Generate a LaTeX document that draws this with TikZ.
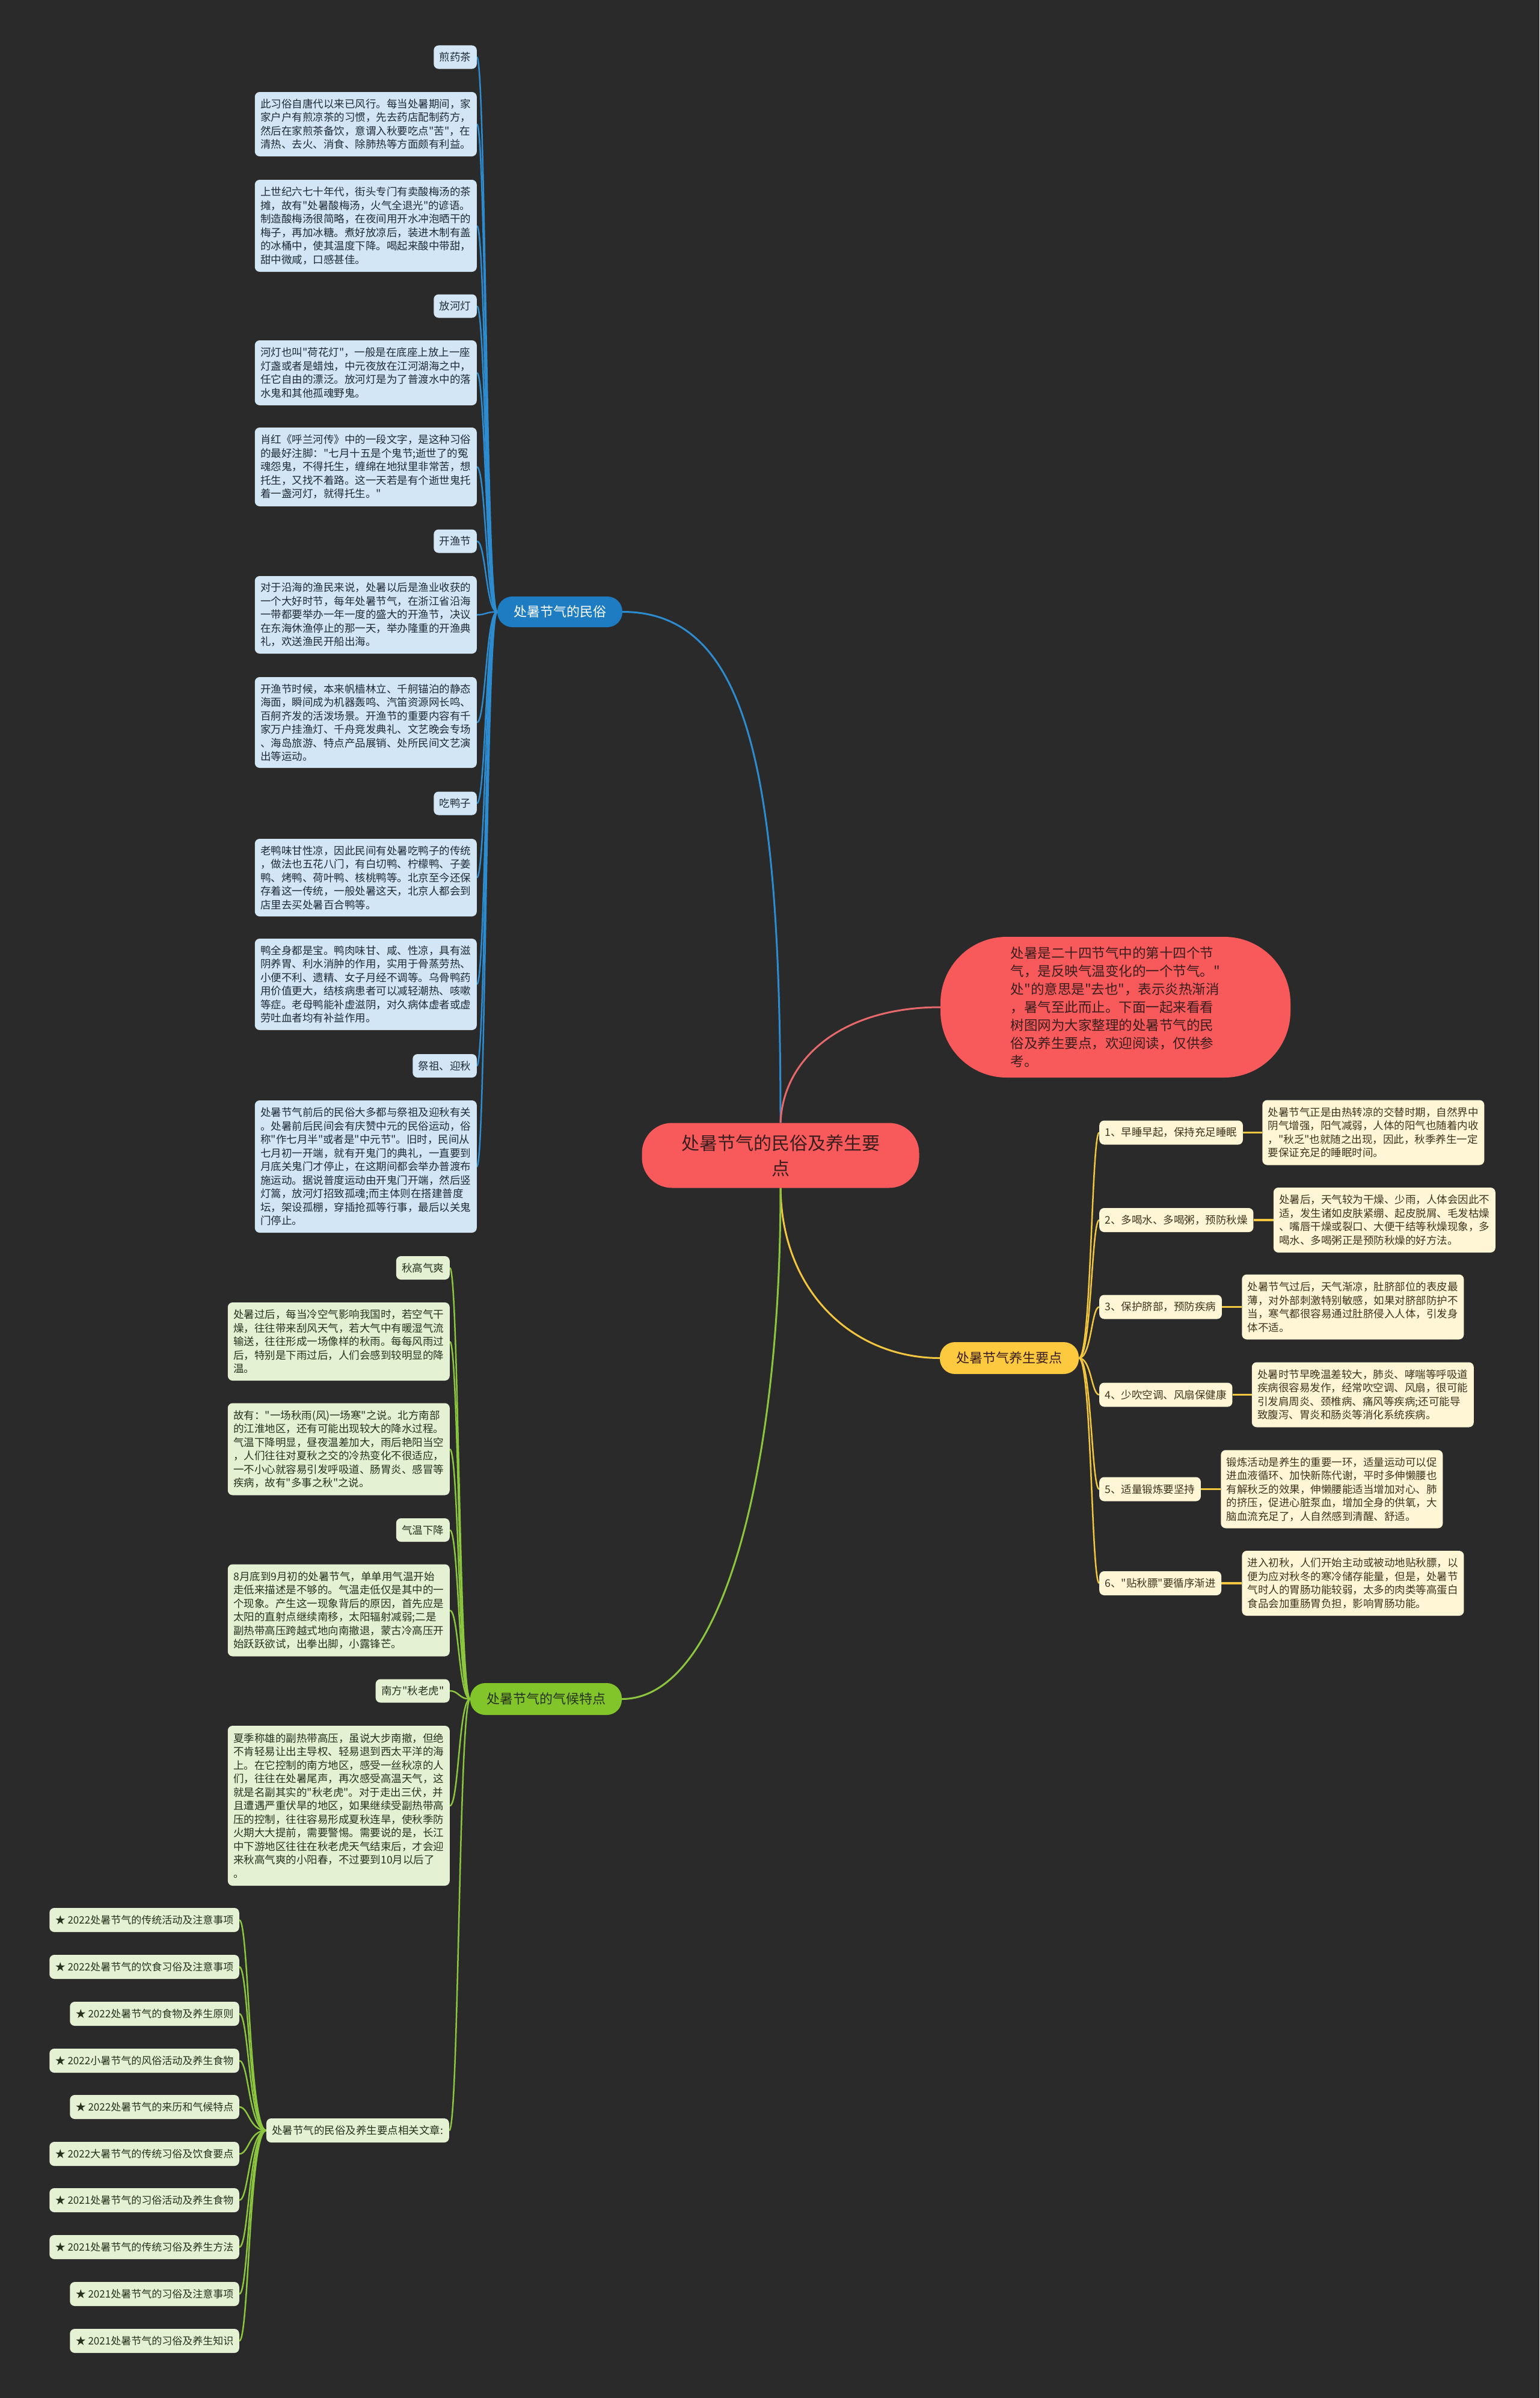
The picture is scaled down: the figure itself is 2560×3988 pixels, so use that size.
\documentclass[tikz,border=0pt]{standalone}
\usepackage{fontspec}
\defaultfontfeatures[\rmfamily]{}
\setmainfont{Noto Sans CJK SC}
\definecolor{bg}{HTML}{2A2A2A}
\definecolor{centralc}{HTML}{F85A5C}
\definecolor{pinkline}{HTML}{E8696B}
\definecolor{bluenode}{HTML}{1E7DC2}
\definecolor{blueline}{HTML}{2D8BD0}
\definecolor{bleaf}{HTML}{D3E6F5}
\definecolor{yellownode}{HTML}{FDC93F}
\definecolor{yellowline}{HTML}{F3C640}
\definecolor{yleaf}{HTML}{FFF6D5}
\definecolor{greennode}{HTML}{82C52A}
\definecolor{greenline}{HTML}{8CC63F}
\definecolor{gleaf}{HTML}{E5F1D3}
\definecolor{darktxt}{HTML}{3A1E1E}
\definecolor{btxt}{HTML}{1F2A35}
\definecolor{ytxt}{HTML}{3D3420}
\definecolor{gtxt}{HTML}{26321C}
\pgfdeclarelayer{bgl}
\pgfdeclarelayer{conn}
\pgfsetlayers{bgl,conn,main}
\tikzset{
  leafbase/.style={rounded corners=8pt, inner xsep=9.5pt, inner ysep=0pt,
    font=\fontsize{17.5}{22.5}\selectfont, align=left},
  bdesc/.style={leafbase, fill=bleaf, text=btxt, text width=350pt, anchor=east},
  blab/.style={leafbase, fill=bleaf, text=btxt, anchor=east, minimum height=39pt},
  gdesc/.style={leafbase, fill=gleaf, text=gtxt, text width=350pt, anchor=east},
  glab/.style={leafbase, fill=gleaf, text=gtxt, anchor=east, minimum height=39pt},
  art/.style={leafbase, fill=gleaf, text=gtxt, anchor=east, minimum height=40pt, font=\fontsize{17}{22}\selectfont},
  yitem/.style={leafbase, fill=yleaf, text=ytxt, anchor=west, minimum height=40pt},
  ydesc/.style={leafbase, fill=yleaf, text=ytxt, text width=350pt, anchor=west},
  branch/.style={rounded corners=25pt, inner sep=0pt, font=\fontsize{22}{26}\selectfont},
  bline/.style={draw=blueline, line width=2.5pt},
  yline/.style={draw=yellowline, line width=2.5pt},
  gline/.style={draw=greenline, line width=2.5pt},
}
\begin{document}
\begin{tikzpicture}[x=1pt,y=-1pt]
\begin{pgfonlayer}{bgl}
\path[fill=bg] (0,0) rectangle (2560,3988);
\end{pgfonlayer}
\useasboundingbox (0,0) rectangle (2560,3988);

% ---------- main nodes ----------
\node[fill=centralc, text=darktxt, rounded corners=50pt, minimum width=461pt, minimum height=108pt,
  inner sep=0pt, align=center, font=\fontsize{30}{42}\selectfont] (central) at (1298,1921.5)
  {处暑节气的民俗及养生要\\点};
\node[fill=centralc, text=darktxt, rounded corners=110pt, minimum width=582pt, minimum height=234pt,
  inner sep=0pt, align=left, font=\fontsize{22.5}{30}\selectfont] (pink) at (1855,1675)
  {处暑是二十四节气中的第十四个节\\
   气，是反映气温变化的一个节气。"\\
   处"的意思是"去也"，表示炎热渐消\\
   ，暑气至此而止。下面一起来看看\\
   树图网为大家整理的处暑节气的民\\
   俗及养生要点，欢迎阅读，仅供参\\
   考。};
\node[branch, fill=bluenode, text=white, minimum width=208pt, minimum height=51pt] (blue) at (931,1017.5) {处暑节气的民俗};
\node[branch, fill=yellownode, text=darktxt, minimum width=231pt, minimum height=53pt] (yellow) at (1678.5,2258.5) {处暑节气养生要点};
\node[branch, fill=greennode, text=gtxt, minimum width=252pt, minimum height=53pt] (green) at (908,2825.5) {处暑节气的气候特点};

% ---------- blue branch ----------
\node[blab] (bL1) at (793,95) {煎药茶};
\node[bdesc, minimum height=107pt] (bD1) at (793,206.5) {此习俗自唐代以来已风行。每当处暑期间，家\\家户户有煎凉茶的习惯，先去药店配制药方，\\然后在家煎茶备饮，意谓入秋要吃点"苦"，在\\清热、去火、消食、除肺热等方面颇有利益。};
\node[bdesc, minimum height=153pt] (bD2) at (793,375.5) {上世纪六七十年代，街头专门有卖酸梅汤的茶\\摊，故有"处暑酸梅汤，火气全退光"的谚语。\\制造酸梅汤很简略，在夜间用开水冲泡晒干的\\梅子，再加冰糖。煮好放凉后，装进木制有盖\\的冰桶中，使其温度下降。喝起来酸中带甜，\\甜中微咸，口感甚佳。};
\node[blab] (bL2) at (793,509) {放河灯};
\node[bdesc, minimum height=108pt] (bD3) at (793,620) {河灯也叫"荷花灯"，一般是在底座上放上一座\\灯盏或者是蜡烛，中元夜放在江河湖海之中，\\任它自由的漂泛。放河灯是为了普渡水中的落\\水鬼和其他孤魂野鬼。};
\node[bdesc, minimum height=131pt] (bD4) at (793,776.5) {肖红《呼兰河传》中的一段文字，是这种习俗\\的最好注脚："七月十五是个鬼节;逝世了的冤\\魂怨鬼，不得托生，缠绵在地狱里非常苦，想\\托生，又找不着路。这一天若是有个逝世鬼托\\着一盏河灯，就得托生。"};
\node[blab] (bL3) at (793,900) {开渔节};
\node[bdesc, minimum height=129pt] (bD5) at (793,1022.5) {对于沿海的渔民来说，处暑以后是渔业收获的\\一个大好时节，每年处暑节气，在浙江省沿海\\一带都要举办一年一度的盛大的开渔节，决议\\在东海休渔停止的那一天，举办隆重的开渔典\\礼，欢送渔民开船出海。};
\node[bdesc, minimum height=151pt] (bD6) at (793,1201.5) {开渔节时候，本来帆樯林立、千舸锚泊的静态\\海面，瞬间成为机器轰鸣、汽笛资源网长鸣、\\百舸齐发的活泼场景。开渔节的重要内容有千\\家万户挂渔灯、千舟竞发典礼、文艺晚会专场\\、海岛旅游、特点产品展销、处所民间文艺演\\出等运动。};
\node[blab] (bL4) at (793,1336) {吃鸭子};
\node[bdesc, minimum height=129pt] (bD7) at (793,1459.5) {老鸭味甘性凉，因此民间有处暑吃鸭子的传统\\，做法也五花八门，有白切鸭、柠檬鸭、子姜\\鸭、烤鸭、荷叶鸭、核桃鸭等。北京至今还保\\存着这一传统，一般处暑这天，北京人都会到\\店里去买处暑百合鸭等。};
\node[bdesc, minimum height=152pt] (bD8) at (793,1637) {鸭全身都是宝。鸭肉味甘、咸、性凉，具有滋\\阴养胃、利水消肿的作用，实用于骨蒸劳热、\\小便不利、遗精、女子月经不调等。乌骨鸭药\\用价值更大，结核病患者可以减轻潮热、咳嗽\\等症。老母鸭能补虚滋阴，对久病体虚者或虚\\劳吐血者均有补益作用。};
\node[blab] (bL5) at (793,1772.5) {祭祖、迎秋};
\node[bdesc, minimum height=220pt] (bD9) at (793,1940) {处暑节气前后的民俗大多都与祭祖及迎秋有关\\。处暑前后民间会有庆赞中元的民俗运动，俗\\称"作七月半"或者是"中元节"。旧时，民间从\\七月初一开端，就有开鬼门的典礼，一直要到\\月底关鬼门才停止，在这期间都会举办普渡布\\施运动。据说普度运动由开鬼门开端，然后竖\\灯篙，放河灯招致孤魂;而主体则在搭建普度\\坛，架设孤棚，穿插抢孤等行事，最后以关鬼\\门停止。};

% ---------- yellow branch ----------
\node[yitem] (I1) at (1828,1883.5) {1、早睡早起，保持充足睡眠};
\node[ydesc, minimum height=108pt] (Y1) at ([xshift=32pt]I1.east) {处暑节气正是由热转凉的交替时期，自然界中\\阴气增强，阳气减弱，人体的阳气也随着内收\\，"秋乏"也就随之出现，因此，秋季养生一定\\要保证充足的睡眠时间。};
\node[yitem] (I2) at (1828,2029) {2、多喝水、多喝粥，预防秋燥};
\node[ydesc, minimum height=108pt] (Y2) at ([xshift=33pt]I2.east) {处暑后，天气较为干燥、少雨，人体会因此不\\适，发生诸如皮肤紧绷、起皮脱屑、毛发枯燥\\、嘴唇干燥或裂口、大便干结等秋燥现象，多\\喝水、多喝粥正是预防秋燥的好方法。};
\node[yitem] (I3) at (1828,2173.5) {3、保护脐部，预防疾病};
\node[ydesc, minimum height=108pt] (Y3) at ([xshift=33pt]I3.east) {处暑节气过后，天气渐凉，肚脐部位的表皮最\\薄，对外部刺激特别敏感，如果对脐部防护不\\当，寒气都很容易通过肚脐侵入人体，引发身\\体不适。};
\node[yitem] (I4) at (1828,2319.5) {4、少吹空调、风扇保健康};
\node[ydesc, minimum height=108pt] (Y4) at ([xshift=32pt]I4.east) {处暑时节早晚温差较大，肺炎、哮喘等呼吸道\\疾病很容易发作，经常吹空调、风扇，很可能\\引发肩周炎、颈椎病、痛风等疾病;还可能导\\致腹泻、胃炎和肠炎等消化系统疾病。};
\node[yitem] (I5) at (1828,2476.5) {5、适量锻炼要坚持};
\node[ydesc, minimum height=130pt] (Y5) at ([xshift=33pt]I5.east) {锻炼活动是养生的重要一环，适量运动可以促\\进血液循环、加快新陈代谢，平时多伸懒腰也\\有解秋乏的效果，伸懒腰能适当增加对心、肺\\的挤压，促进心脏泵血，增加全身的供氧，大\\脑血流充足了，人自然感到清醒、舒适。};
\node[yitem] (I6) at (1828,2633) {6、"贴秋膘"要循序渐进};
\node[ydesc, minimum height=108pt] (Y6) at ([xshift=34pt]I6.east) {进入初秋，人们开始主动或被动地贴秋膘，以\\便为应对秋冬的寒冷储存能量，但是，处暑节\\气时人的胃肠功能较弱，太多的肉类等高蛋白\\食品会加重肠胃负担，影响胃肠功能。};

% ---------- green branch ----------
\node[glab] (gL1) at (748,2108.5) {秋高气爽};
\node[gdesc, minimum height=130pt] (gD1) at (748,2231) {处暑过后，每当冷空气影响我国时，若空气干\\燥，往往带来刮风天气，若大气中有暖湿气流\\输送，往往形成一场像样的秋雨。每每风雨过\\后，特别是下雨过后，人们会感到较明显的降\\温。};
\node[gdesc, minimum height=153pt] (gD2) at (748,2410) {故有："一场秋雨(风)一场寒"之说。北方南部\\的江淮地区，还有可能出现较大的降水过程。\\气温下降明显，昼夜温差加大，雨后艳阳当空\\，人们往往对夏秋之交的冷热变化不很适应，\\一不小心就容易引发呼吸道、肠胃炎、感冒等\\疾病，故有"多事之秋"之说。};
\node[glab] (gL2) at (748,2544.5) {气温下降};
\node[gdesc, minimum height=153pt] (gD3) at (748,2678) {8月底到9月初的处暑节气，单单用气温开始\\走低来描述是不够的。气温走低仅是其中的一\\个现象。产生这一现象背后的原因，首先应是\\太阳的直射点继续南移，太阳辐射减弱;二是\\副热带高压跨越式地向南撤退，蒙古冷高压开\\始跃跃欲试，出拳出脚，小露锋芒。};
\node[glab] (gL3) at (748,2812) {南方"秋老虎"};
\node[gdesc, minimum height=266pt] (gD4) at (748,3003) {夏季称雄的副热带高压，虽说大步南撤，但绝\\不肯轻易让出主导权、轻易退到西太平洋的海\\上。在它控制的南方地区，感受一丝秋凉的人\\们，往往在处暑尾声，再次感受高温天气，这\\就是名副其实的"秋老虎"。对于走出三伏，并\\且遭遇严重伏旱的地区，如果继续受副热带高\\压的控制，往往容易形成夏秋连旱，使秋季防\\火期大大提前，需要警惕。需要说的是，长江\\中下游地区往往在秋老虎天气结束后，才会迎\\来秋高气爽的小阳春，不过要到10月以后了\\。};
\node[glab, minimum height=40pt] (rel) at (747,3543) {处暑节气的民俗及养生要点相关文章:};

% ---------- related articles ----------
\node[art] (a1) at (398,3193) {★ 2022处暑节气的传统活动及注意事项};
\node[art] (a2) at (398,3271) {★ 2022处暑节气的饮食习俗及注意事项};
\node[art] (a3) at (398,3349) {★ 2022处暑节气的食物及养生原则};
\node[art] (a4) at (398,3427) {★ 2022小暑节气的风俗活动及养生食物};
\node[art] (a5) at (398,3504) {★ 2022处暑节气的来历和气候特点};
\node[art] (a6) at (398,3582) {★ 2022大暑节气的传统习俗及饮食要点};
\node[art] (a7) at (398,3659) {★ 2021处暑节气的习俗活动及养生食物};
\node[art] (a8) at (398,3737) {★ 2021处暑节气的传统习俗及养生方法};
\node[art] (a9) at (398,3815) {★ 2021处暑节气的习俗及注意事项};
\node[art] (a10) at (398,3893) {★ 2021处暑节气的习俗及养生知识};

% trunk coordinates
\coordinate (btr) at (808,0);
\coordinate (ytr) at (1815,0);
\coordinate (gtr) at (763,0);
\coordinate (atr) at (414,0);

\begin{pgfonlayer}{conn}
% main connectors
\draw[draw=blueline, line width=3pt] (central.north) .. controls (1298,1300) and (1250,1017.5) .. (blue.east);
\draw[draw=pinkline, line width=3pt] (central.north) .. controls (1302,1760) and (1400,1675) .. (pink.west);
\draw[draw=yellowline, line width=3pt] (central.south) .. controls (1300,2150) and (1420,2258.5) .. (yellow.west);
\draw[draw=greenline, line width=3pt] (central.south) .. controls (1298,2450) and (1200,2825.5) .. (green.east);
% blue children
\foreach \c in {bL1,bD1,bD2,bL2,bD3,bD4,bL3,bD5,bD6,bL4,bD7,bD8,bL5,bD9}
  \draw[bline] (blue.west) .. controls (blue.west -| btr) and (\c.east -| btr) .. (\c.east);
% yellow children
\foreach \c/\d in {I1/Y1,I2/Y2,I3/Y3,I4/Y4,I5/Y5,I6/Y6} {
  \draw[yline] (yellow.east) .. controls (yellow.east -| ytr) and (\c.west -| ytr) .. (\c.west);
  \draw[draw=yellowline, line width=3.5pt] (\c.east) -- (\d.west);
}
% green children
\foreach \c in {gL1,gD1,gD2,gL2,gD3,gL3,gD4,rel}
  \draw[gline] (green.west) .. controls (green.west -| gtr) and (\c.east -| gtr) .. (\c.east);
% articles
\foreach \c in {a1,a2,a3,a4,a5,a6,a7,a8,a9,a10}
  \draw[gline] (rel.west) .. controls (rel.west -| atr) and (\c.east -| atr) .. (\c.east);
\end{pgfonlayer}
\end{tikzpicture}
\end{document}
